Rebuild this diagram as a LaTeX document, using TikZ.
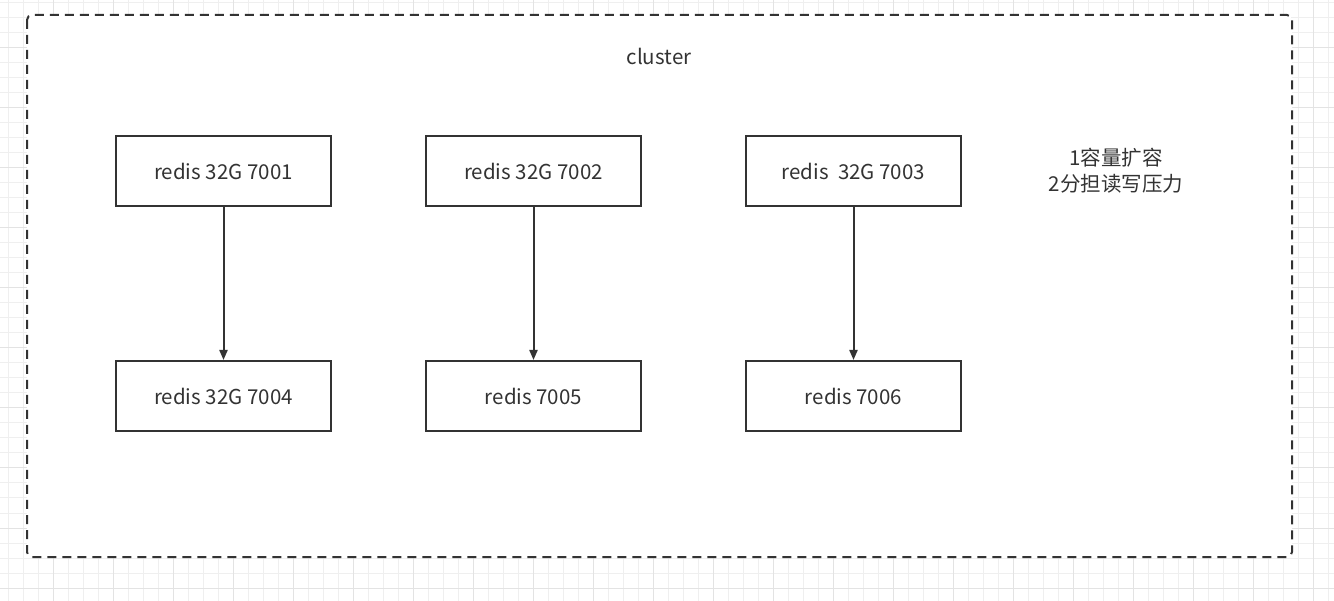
\documentclass[tikz,border=0pt]{standalone}
\usepackage{fontspec}
\setmainfont{Noto Sans CJK SC}
\usetikzlibrary{positioning,arrows.meta}
\definecolor{linegray}{HTML}{333333}
\definecolor{gridminor}{HTML}{EFEFEF}
\definecolor{gridmajor}{HTML}{E3E3E3}
\tikzset{
  redisbox/.style={draw=linegray,line width=2pt,fill=white,minimum width=215pt,minimum height=70pt,inner sep=0pt,text=linegray,font=\fontsize{20.5}{24}\selectfont},
  plaintext/.style={text=linegray,font=\fontsize{20.5}{26}\selectfont,align=center},
  flow/.style={draw=linegray,line width=2pt,-{Triangle[length=10pt,width=8pt]}}
}
\begin{document}
\begin{tikzpicture}[x=1pt,y=-1pt]
\useasboundingbox (0,0) rectangle (1334,601);
\fill[white] (0,0) rectangle (1334,601);

% grid
\foreach \k in {0,...,88} {
  \draw[gridminor,line width=1pt] (8+15*\k,0) -- (8+15*\k,601);
}
\foreach \k in {0,...,39} {
  \draw[gridminor,line width=1pt] (0,3+15*\k) -- (1334,3+15*\k);
}
\foreach \k in {3,7,...,87} {
  \draw[gridmajor,line width=1pt] (8+15*\k,0) -- (8+15*\k,601);
}
\foreach \k in {3,7,...,39} {
  \draw[gridmajor,line width=1pt] (0,3+15*\k) -- (1334,3+15*\k);
}

% cluster frame
\draw[linegray,fill=white,line width=2pt,dash pattern=on 9pt off 6pt,rounded corners=5pt]
  (27,15) rectangle (1292,557);
\node[plaintext] (cluster) at (659,56) {cluster};

% masters
\node[redisbox] (r1) at (223.5,171) {redis 32G 7001};
\node[redisbox] (r2) at (533.5,171) {redis 32G 7002};
\node[redisbox] (r3) at (853.5,171) {redis\ \ 32G 7003};

% slaves
\node[redisbox] (r4) at (223.5,396) {redis 32G 7004};
\node[redisbox] (r5) at (533.5,396) {redis 7005};
\node[redisbox] (r6) at (853.5,396) {redis 7006};

\draw[flow] (r1) -- (r4);
\draw[flow] (r2) -- (r5);
\draw[flow] (r3) -- (r6);

\node[plaintext] (note) at (1116,171) {1容量扩容\\2分担读写压力};
\end{tikzpicture}
\end{document}
